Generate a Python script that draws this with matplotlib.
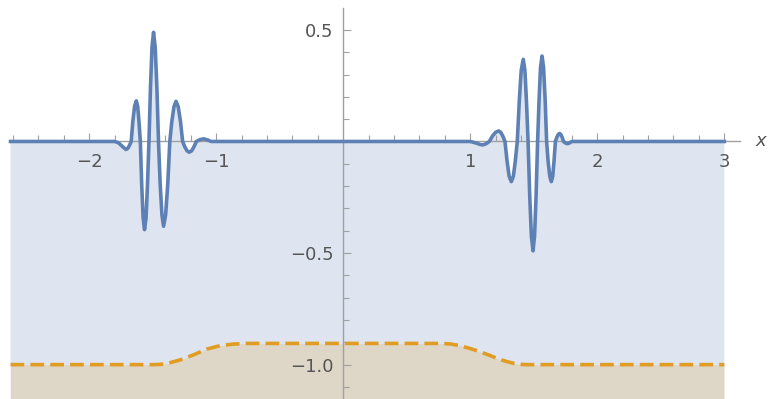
import matplotlib
matplotlib.use("Agg")
import matplotlib.pyplot as plt
from matplotlib.ticker import FixedLocator, FixedFormatter

# ---- data ----
wave_x = [-2.62, -1.80, -1.77, -1.74, -1.711, -1.697, -1.684, -1.670,
          -1.657, -1.643, -1.630, -1.619, -1.609, -1.598,
          -1.587, -1.576, -1.565, -1.553, -1.542, -1.530,
          -1.518, -1.506, -1.494, -1.481, -1.468, -1.455,
          -1.442, -1.428, -1.415, -1.399, -1.382, -1.366,
          -1.350, -1.333, -1.317, -1.300, -1.282, -1.265,
          -1.248, -1.230, -1.213, -1.194, -1.176, -1.157,
          -1.13, -1.10, -1.07, -1.04,
          1.00, 1.04, 1.08, 1.10, 1.125, 1.15,
          1.174, 1.199, 1.223, 1.240, 1.256, 1.273,
          1.290, 1.306, 1.323, 1.339, 1.354, 1.370,
          1.386, 1.401, 1.417, 1.430, 1.442, 1.455,
          1.468, 1.481, 1.494, 1.506, 1.518, 1.530,
          1.542, 1.553, 1.565, 1.577, 1.589, 1.601,
          1.613, 1.626, 1.638, 1.649, 1.659, 1.670,
          1.681, 1.692, 1.703, 1.713, 1.724, 1.734,
          1.75, 1.765, 1.78, 1.80, 3.0]
wave_y = [0.0, 0.0, -0.006, -0.022, -0.036, -0.031, -0.018, 0.0,
          0.091, 0.158, 0.182, 0.158, 0.091, 0.0,
          -0.198, -0.342, -0.395, -0.342, -0.198, 0.0,
          0.245, 0.423, 0.489, 0.423, 0.245, 0.0,
          -0.19, -0.329, -0.38, -0.329, -0.19, 0.0,
          0.09, 0.156, 0.18, 0.156, 0.09, 0.0,
          -0.024, -0.042, -0.048, -0.042, -0.024, 0.0,
          0.008, 0.012, 0.007, 0.0,
          0.0, -0.006, -0.014, -0.015, -0.01, 0.0,
          0.024, 0.041, 0.047, 0.041, 0.024, 0.0,
          -0.09, -0.156, -0.18, -0.156, -0.09, 0.0,
          0.184, 0.319, 0.368, 0.319, 0.184, 0.0,
          -0.245, -0.424, -0.49, -0.424, -0.245, 0.0,
          0.192, 0.332, 0.383, 0.332, 0.192, 0.0,
          -0.09, -0.156, -0.18, -0.156, -0.09, 0.0,
          0.018, 0.031, 0.036, 0.031, 0.018, 0.0,
          -0.007, -0.01, -0.007, 0.0, 0.0]

pot_x = [-2.62, -1.50, -1.443, -1.388, -1.286, -1.183, -1.073, -0.971, -0.869, -0.758,
         0.76, 0.84, 0.92, 1.00, 1.08, 1.16, 1.21, 1.28, 1.34, 1.40, 1.45, 3.0]
pot_y = [-1.0, -1.0, -0.999, -0.995, -0.979, -0.957, -0.930, -0.915, -0.908, -0.905,
         -0.905, -0.907, -0.915, -0.928, -0.943, -0.960, -0.972, -0.985, -0.994, -0.999, -1.0, -1.0]

x_major = [-2, -1, 1, 2, 3]
x_labels = ["\u22122", "\u22121", "1", "2", "3"]
y_major = [-1.0, -0.5, 0.5]
y_labels = ["\u22121.0", "\u22120.5", "0.5"]

BLUE = "#5E81B5"
ORANGE = "#E19C24"
AXC = "#a0a0a0"
TXC = "#555555"

fig = plt.figure(figsize=(7.69, 3.99), dpi=100)
ax = fig.add_axes([0, 0, 1, 1])
ax.set_xlim(-2.703, 3.352)
ax.set_ylim(-1.154, 0.634)
ax.patch.set_alpha(0)

bottom = -1.4
ax.fill_between(wave_x, wave_y, bottom, color=BLUE, alpha=0.2, lw=0, zorder=1)
ax.fill_between(pot_x, pot_y, bottom, color=ORANGE, alpha=0.2, lw=0, zorder=1)

ax.plot(pot_x, pot_y, color=ORANGE, lw=2.6, dashes=(3.8, 1.7), zorder=3)
ax.plot(wave_x, wave_y, color=BLUE, lw=2.6, zorder=4, solid_joinstyle="round")

for s in ["top", "right"]:
    ax.spines[s].set_visible(False)
ax.spines["left"].set_position(("data", 0))
ax.spines["bottom"].set_position(("data", 0))
ax.spines["bottom"].set_bounds(-2.62, 3.12)
ax.spines["left"].set_bounds(-1.3, 0.6)
for s in ["left", "bottom"]:
    ax.spines[s].set_color(AXC)
    ax.spines[s].set_linewidth(1.0)
    ax.spines[s].set_zorder(2)

x_minor = [round(-2.6 + 0.2 * i, 2) for i in range(29)]
x_minor = [v for v in x_minor if abs(v - round(v)) > 1e-6]
y_minor = [round(-1.1 + 0.1 * i, 2) for i in range(17)]
y_minor = [v for v in y_minor if abs(v * 2 - round(v * 2)) > 1e-6]

ax.xaxis.set_major_locator(FixedLocator(x_major))
ax.xaxis.set_major_formatter(FixedFormatter(x_labels))
ax.xaxis.set_minor_locator(FixedLocator(x_minor))
ax.yaxis.set_major_locator(FixedLocator(y_major))
ax.yaxis.set_major_formatter(FixedFormatter(y_labels))
ax.yaxis.set_minor_locator(FixedLocator(y_minor))

ax.tick_params(axis="both", which="major", direction="in", length=6, width=0.8,
               color=AXC, labelcolor=TXC, labelsize=13)
ax.tick_params(axis="both", which="minor", direction="in", length=4, width=0.8, color=AXC)
ax.tick_params(axis="x", which="major", pad=8)
ax.tick_params(axis="y", which="major", pad=7)

ax.text(3.245, 0.0, "x", style="italic", fontsize=13, color=TXC, ha="left", va="center")

fig.savefig("out.png", dpi=100)
